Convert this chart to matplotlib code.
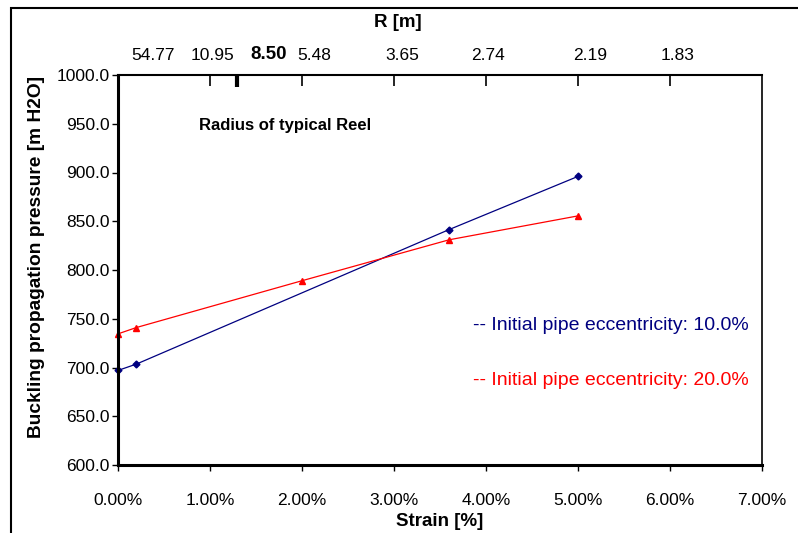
import matplotlib

matplotlib.use("Agg", force=True)
import matplotlib.pyplot as plt
from matplotlib.patches import Rectangle
from matplotlib.ticker import FuncFormatter

plt.rcParams["font.family"] = ["Liberation Sans", "DejaVu Sans"]

# data: strain [%] vs buckling propagation pressure [m H2O]
strain_10 = [0.0, 0.2, 3.6, 5.0]
press_10 = [697.0, 703.5, 841.5, 896.0]
strain_20 = [0.0, 0.2, 2.0, 3.6, 5.0]
press_20 = [734.5, 741.0, 789.0, 831.0, 855.5]

# top axis (reel radius R [m])
r_ticks = [1.0, 2.0, 3.0, 4.0, 5.0, 6.0]
r_label_pos = [0.38, 1.03, 1.64, 2.13, 3.09, 4.02, 5.13, 6.08]
r_labels = ["54.77", "10.95", "8.50", "5.48", "3.65", "2.74", "2.19", "1.83"]
reel_strain = 1.29

fig = plt.figure(figsize=(7.98, 5.33), dpi=100)
ax = fig.add_axes([118 / 798, 1 - 465 / 533, (762 - 118) / 798, (465 - 75) / 533])

navy = "#000080"
red = "#ff0000"
ax.plot(strain_10, press_10, color=navy, lw=0.9, marker="D", ms=3.5, mec=navy, mfc=navy, clip_on=False)
ax.plot(strain_20, press_20, color=red, lw=0.9, marker="^", ms=4.5, mec=red, mfc=red, clip_on=False)

ax.set_xlim(0, 7)
ax.set_ylim(600, 1000)
ax.set_xticks(range(0, 8))
ax.xaxis.set_major_formatter(FuncFormatter(lambda v, p: f"{v:.2f}%"))
ax.set_yticks(range(600, 1001, 50))
ax.yaxis.set_major_formatter(FuncFormatter(lambda v, p: f"{v:.1f}"))
ax.tick_params(axis="both", direction="out", length=4, width=1, labelsize=12.5)
ax.tick_params(axis="x", pad=16)
ax.tick_params(axis="y", pad=2)
ax.spines["left"].set_linewidth(2.2)
ax.spines["bottom"].set_linewidth(2.2)
ax.spines["right"].set_linewidth(1.2)
ax.spines["top"].set_linewidth(1.5)

ax.set_xlabel("Strain [%]", fontsize=13.5, fontweight="bold", labelpad=4)
ax.set_ylabel("Buckling propagation pressure [m H2O]", fontsize=13.8, fontweight="bold")
ax.yaxis.set_label_coords(-0.114, 0.533)

# top axis: tick marks pointing into the plot, labels placed as text
xtrans = ax.get_xaxis_transform()
ax.vlines(r_ticks, 0.972, 1.0, transform=xtrans, color="black", lw=1.2)
ax.vlines([reel_strain], 0.97, 1.0, transform=xtrans, color="black", lw=3)
for pos, lab in zip(r_label_pos, r_labels):
    bold = lab == "8.50"
    ax.text(pos, 1012, lab, ha="center", va="bottom", fontsize=13.5 if bold else 12.5,
            fontweight="bold" if bold else "normal", clip_on=False)
ax.text(3.04, 1054, "R [m]", ha="center", va="center", fontsize=13.5, fontweight="bold", clip_on=False)

ax.text(0.88, 948, "Radius of typical Reel", fontsize=12, fontweight="bold", va="center")
ax.text(3.86, 743.5, "-- Initial pipe eccentricity: 10.0%", color=navy, fontsize=14, va="center")
ax.text(3.86, 687, "-- Initial pipe eccentricity: 20.0%", color=red, fontsize=14, va="center")

# frame around the chart
fig.patches.append(Rectangle((11 / 798, -0.1), 1.2, 1 - 8 / 533 + 0.1, transform=fig.transFigure,
                             fill=False, edgecolor="black", lw=1.5))

fig.savefig("out.png", dpi=100)
